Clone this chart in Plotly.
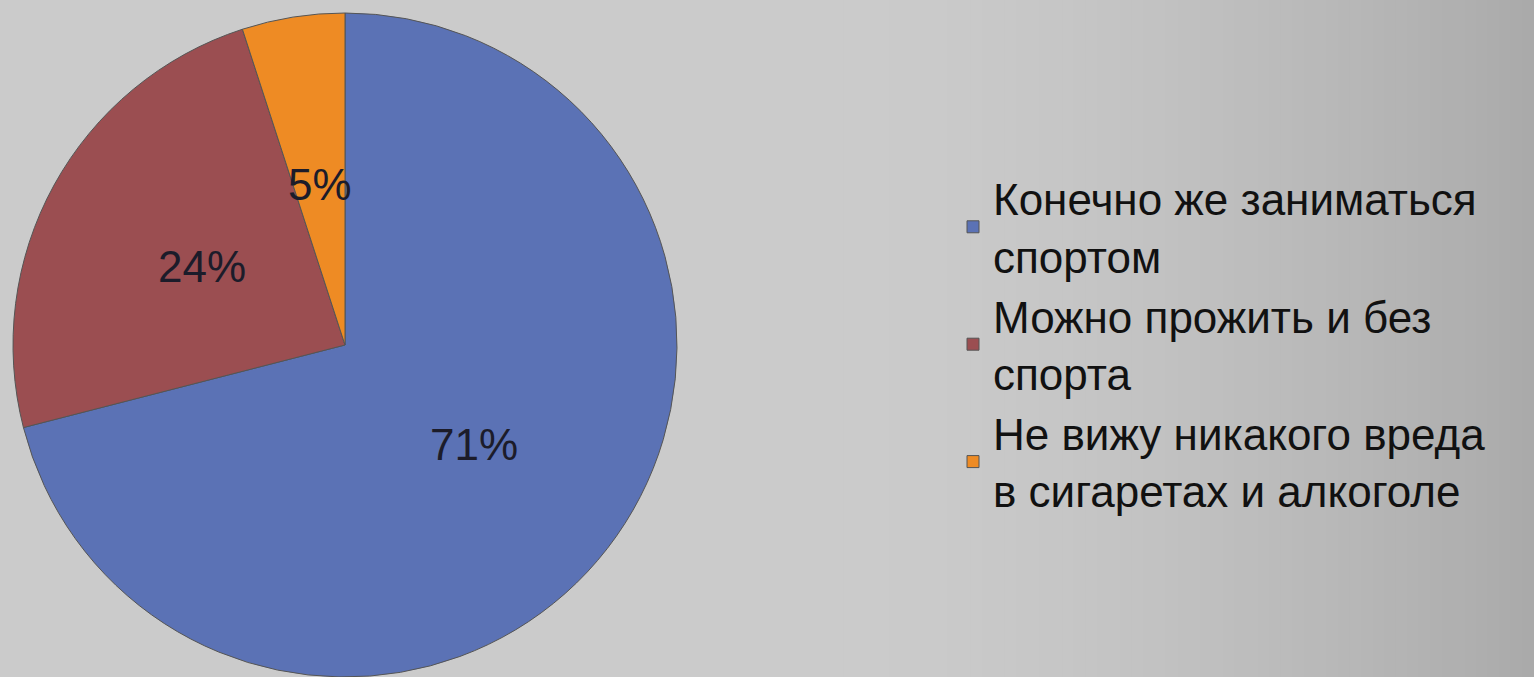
import math
import plotly.graph_objects as go

labels = [
    "Конечно же заниматься<br>спортом",
    "Можно прожить и без<br>спорта",
    "Не вижу никакого вреда<br>в сигаретах и алкоголе",
]
values = [71, 24, 5]
text_labels = ["71%", "24%", "5%"]
colors = ["#5b72b5", "#9b4e51", "#ee8b24"]

W, H = 1534, 677
cx, cy, r = 345, 345, 332

fig = go.Figure()
fig.add_trace(go.Pie(
    labels=labels,
    values=values,
    textinfo="none",
    sort=False,
    direction="clockwise",
    rotation=0,
    marker=dict(colors=colors, line=dict(color="#555555", width=1)),
    domain=dict(x=[(cx - r) / W, (cx + r) / W], y=[(H - cy - r) / H, (H - cy + r) / H]),
    hoverinfo="skip",
))

# data labels placed at mid-angle, half radius (like Excel's default)
total = sum(values)
annotations = []
cum = 0
for v, t in zip(values, text_labels):
    mid = (cum + v / 2) / total * 2 * math.pi
    cum += v
    px = cx + 0.49 * r * math.sin(mid)
    py = cy - 0.49 * r * math.cos(mid)
    annotations.append(dict(
        x=px / W, y=1 - py / H, xref="paper", yref="paper",
        text=t, showarrow=False, xanchor="center", yanchor="middle",
        font=dict(family="Liberation Sans, Arial", size=44, color="#1c1c2a"),
    ))

# background gradient (decorative)
shapes = []
n = 60
x0 = 0.55
for i in range(n):
    a = x0 + (1 - x0) * i / n
    b = x0 + (1 - x0) * (i + 1) / n
    t = (i + 0.5) / n
    g = int(round(203 - (203 - 170) * t ** 1.6))
    shapes.append(dict(type="rect", xref="paper", yref="paper", x0=a, x1=b + 0.001, y0=0, y1=1,
                       fillcolor=f"rgb({g},{g},{g})", line=dict(width=0), layer="below"))

fig.update_layout(
    width=W, height=H,
    margin=dict(l=0, r=0, t=0, b=0),
    paper_bgcolor="#cbcbcb",
    plot_bgcolor="#cbcbcb",
    shapes=shapes,
    annotations=annotations,
    showlegend=True,
    legend=dict(
        x=953 / W, xanchor="left",
        y=0.491, yanchor="middle",
        font=dict(family="Liberation Sans, Arial", size=44, color="#111111"),
        bgcolor="rgba(0,0,0,0)",
        itemwidth=30,
        valign="middle",
        tracegroupgap=0,
    ),
)

fig.write_html("out.html")
